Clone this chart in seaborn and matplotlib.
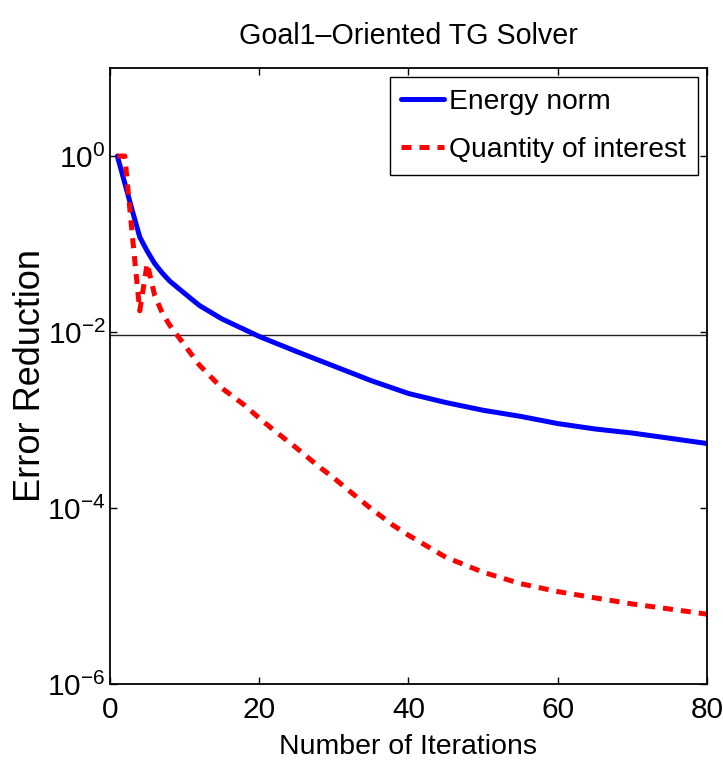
import matplotlib
matplotlib.use("Agg")
import matplotlib.pyplot as plt
import pandas as pd
import seaborn as sns

# values (error reduction vs iteration)
energy_iters = [1, 2, 3, 4, 5, 6, 7, 8, 10, 12, 15, 20, 25, 30, 35, 40, 45, 50, 55, 60, 65, 70, 75, 80]
energy_err = [1.0, 0.49, 0.24, 0.12, 0.083, 0.060, 0.047, 0.038, 0.0275, 0.020, 0.0141, 0.0089,
              0.0060, 0.0041, 0.0028, 0.0020, 0.00158, 0.00129, 0.0011, 0.00091, 0.00079,
              0.00071, 0.00062, 0.00054]

qoi_iters = [1, 2, 3, 4, 5, 6, 7, 8, 10, 12, 15, 18, 20, 22, 25, 28, 30, 32, 35, 38, 40,
             45, 50, 55, 60, 65, 70, 75, 80]
qoi_err = [1.0, 1.0, 0.126, 0.0174, 0.060, 0.026, 0.0166, 0.012, 0.0071, 0.0042, 0.0023,
           0.00148, 0.00105, 0.00076, 0.00048, 0.000295, 0.000219, 0.000158, 9.8e-5, 6.3e-5,
           4.9e-5, 2.75e-5, 1.86e-5, 1.38e-5, 1.12e-5, 9.5e-6, 8.1e-6, 7.1e-6, 6.2e-6]

tolerance = 0.00925
y_ticks = [1e-6, 1e-4, 1e-2, 1e0]
x_ticks = [0, 20, 40, 60, 80]

sns.set_theme(style="ticks")
plt.rcParams["font.family"] = ["Liberation Sans", "DejaVu Sans"]
plt.rcParams["mathtext.fontset"] = "custom"
plt.rcParams["mathtext.rm"] = "Liberation Sans"
for key in ["text.color", "axes.labelcolor", "xtick.color", "ytick.color", "axes.edgecolor"]:
    plt.rcParams[key] = "black"

energy_df = pd.DataFrame({"iteration": energy_iters, "error": energy_err})
qoi_df = pd.DataFrame({"iteration": qoi_iters, "error": qoi_err})

fig, ax = plt.subplots(figsize=(7.23, 7.65), dpi=100)
fig.subplots_adjust(left=0.152, right=0.978, top=0.911, bottom=0.106)

sns.lineplot(energy_df, x="iteration", y="error", ax=ax, color="#0000ff", linewidth=3.6,
             label="Energy norm")
sns.lineplot(qoi_df, x="iteration", y="error", ax=ax, color="#ff0000", linewidth=3.6,
             linestyle=(0, (2.0, 1.6)), label="Quantity of interest")
ax.axhline(tolerance, color="#222222", linewidth=1.0, zorder=1)

ax.set_yscale("log")
ax.set_xlim(0, 80)
ax.set_ylim(1e-6, 1e1)
ax.set_xticks(x_ticks)
ax.set_yticks(y_ticks)
ax.minorticks_off()
ax.tick_params(direction="in", length=5, width=1, top=True, right=True)
ax.tick_params(axis="x", pad=9, labelsize=21.5)
ax.tick_params(axis="y", pad=3, labelsize=21.5)
for spine in ax.spines.values():
    spine.set_visible(True)
    spine.set_linewidth(1.3)

ax.set_title("Goal1\u2013Oriented TG Solver", fontsize=20.6, pad=17)
ax.set_xlabel("Number of Iterations", fontsize=20.5, labelpad=7)
ax.set_ylabel("Error Reduction", fontsize=26, labelpad=-1)

leg = ax.legend(loc="upper right", fontsize=20.3, frameon=True, fancybox=False, edgecolor="black",
                framealpha=1, handlelength=1.5, handletextpad=0.2, labelspacing=0.78,
                borderpad=0.42, borderaxespad=0.32)
leg.get_frame().set_linewidth(1.0)

plt.savefig("out.png", dpi=100)
plt.close(fig)
